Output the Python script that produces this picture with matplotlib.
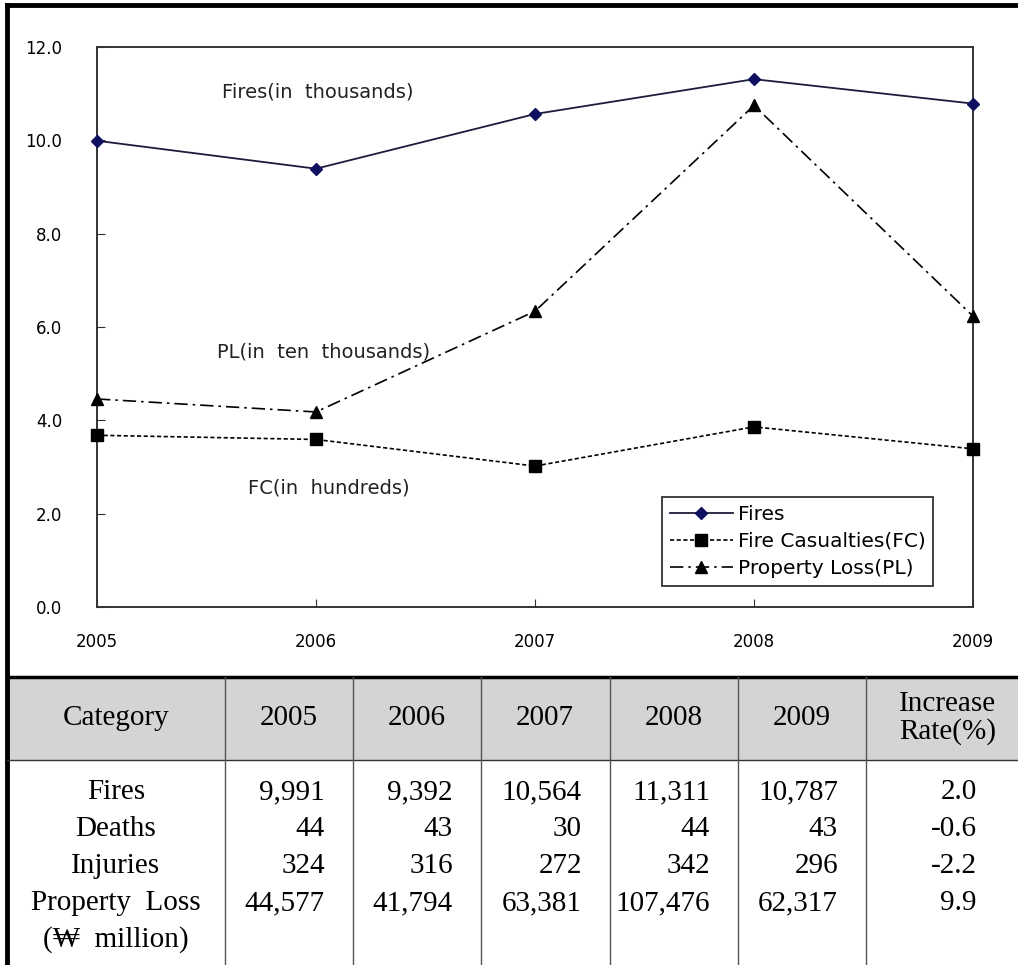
import matplotlib.pyplot as plt
from matplotlib.patches import Rectangle

# yearly fire statistics
years = [2005, 2006, 2007, 2008, 2009]
fires = [9991, 9392, 10564, 11311, 10787]
deaths = [44, 43, 30, 44, 43]
injuries = [324, 316, 272, 342, 296]
property_loss = [44577, 41794, 63381, 107476, 62317]
increase_rate = [2.0, -0.6, -2.2, 9.9]

# scaled series for the line chart
fires_k = [v / 1000 for v in fires]
casualties_h = [(d + i) / 100 for d, i in zip(deaths, injuries)]
loss_10k = [v / 10000 for v in property_loss]

W, H = 1018, 965
fig = plt.figure(figsize=(W / 100, H / 100), dpi=100)

# background layer in pixel units for frame and table
bg = fig.add_axes([0, 0, 1, 1])
bg.set_xlim(0, W)
bg.set_ylim(H, 0)
bg.axis('off')

# outer frame
bg.plot([7, 7], [5, H], color='black', lw=3.5, solid_capstyle='projecting')
bg.plot([7, W], [5, 5], color='black', lw=3.5, solid_capstyle='projecting')

# table header band
bg.add_patch(Rectangle((7, 677), W - 7, 83, facecolor='#d4d4d4', edgecolor='none'))
bg.plot([7, W], [677, 677], color='black', lw=2.5)
bg.plot([7, W], [760, 760], color='#333333', lw=1.0)
for x in [225, 353, 481, 610, 738, 866]:
    bg.plot([x, x], [677, H], color='#555555', lw=1.0)

serif = 'Liberation Serif'
tsize = 21
head_y = 718
bg.text(116, head_y, 'Category', ha='center', va='center', fontsize=tsize, family=serif)
col_centers = [289, 417, 545, 674, 802]
for cx, yr in zip(col_centers, years):
    bg.text(cx, head_y, str(yr), ha='center', va='center', fontsize=tsize, family=serif)
bg.text(948, head_y, 'Increase\nRate(%)', ha='center', va='center', fontsize=tsize,
        family=serif, linespacing=1.1)

row_y = [792, 829, 866, 903]
row_names = ['Fires', 'Deaths', 'Injuries', 'Property  Loss']
for y, name in zip(row_y, row_names):
    bg.text(116, y, name, ha='center', va='center', fontsize=tsize, family=serif)
bg.text(116, 940, '(\u20a9  million)', ha='center', va='center', fontsize=tsize, family=serif)

col_rights = [325, 453, 582, 710, 838]
rows = [fires, deaths, injuries, property_loss]
for y, vals in zip(row_y, rows):
    for xr, v in zip(col_rights, vals):
        bg.text(xr, y, f'{v:,}', ha='right', va='center', fontsize=tsize, family=serif)
for y, r in zip(row_y, increase_rate):
    bg.text(977, y, f'{r:.1f}', ha='right', va='center', fontsize=tsize, family=serif)

# line chart
ax = fig.add_axes([97 / W, 1 - 607 / H, 876 / W, 560 / H])
ax.plot(years, fires_k, color='#1c1c3c', lw=1.3, marker='D', ms=6,
        mfc='#101060', mec='#101060', label='Fires', clip_on=False, zorder=3)
ax.plot(years, casualties_h, color='black', lw=1.2, ls=(0, (2.5, 1.5)), marker='s', ms=9,
        mfc='black', mec='black', label='Fire Casualties(FC)', clip_on=False, zorder=3)
ax.plot(years, loss_10k, color='black', lw=1.2, ls=(0, (8, 3, 1.5, 3)), marker='^', ms=9,
        mfc='black', mec='black', label='Property Loss(PL)', clip_on=False, zorder=3)

ax.set_xlim(2005, 2009)
ax.set_ylim(0, 12)
ax.set_xticks(years)
ax.set_yticks([0, 2, 4, 6, 8, 10, 12])
ax.set_yticklabels([f'{v:.1f}' for v in [0, 2, 4, 6, 8, 10, 12]])
ax.tick_params(axis='x', direction='in', length=6, pad=19, labelsize=12, color='#333333')
ax.tick_params(axis='y', direction='in', length=6, pad=25, labelsize=12, color='#333333')
for s in ax.spines.values():
    s.set_linewidth(1.4)
    s.set_color('#333333')

ax.text(2005.57, 11.03, 'Fires(in  thousands)', fontsize=14, va='center', color='#222222')
ax.text(2005.55, 5.46, 'PL(in  ten  thousands)', fontsize=14, va='center', color='#222222')
ax.text(2005.69, 2.55, 'FC(in  hundreds)', fontsize=14, va='center', color='#222222')

leg = ax.legend(loc='lower left', bbox_to_anchor=(0.645, 0.0375), borderaxespad=0,
                fancybox=False, edgecolor='#333333', framealpha=1, fontsize=14.5,
                handlelength=3.1, handletextpad=0.25, labelspacing=0.4,
                borderpad=0.4)
leg.get_frame().set_linewidth(1.3)

fig.savefig('out.png', dpi=100)
